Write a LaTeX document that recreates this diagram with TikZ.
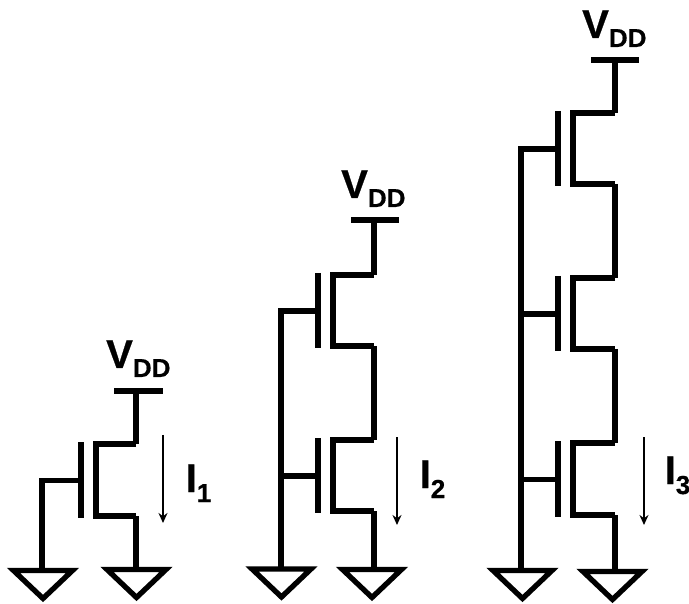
\documentclass[tikz,border=0pt]{standalone}
\usepackage{fontspec}
\setmainfont{Liberation Sans}[BoldFeatures={FakeBold=0.6}]
\usepackage{tikz}
\usetikzlibrary{arrows.meta}

\tikzset{
	wire/.style={line width=5.3pt,miter limit=10},
	current/.style={line width=1.5pt,-{Stealth[length=10pt,width=9pt]}},
	vddlabel/.style={anchor=base west,inner sep=0pt,font=\fontsize{40}{40}\selectfont\bfseries},
	ilabel/.style={anchor=base west,inner sep=0pt,font=\fontsize{40}{40}\selectfont\bfseries},
	gnd/.pic={\draw[wire] (-29.5,0) -- (29.5,0) -- (0,28) -- cycle;}
}
\newcommand{\subtext}[2]{\raisebox{#1}{\fontsize{26}{26}\selectfont #2}}
% name, channel x, drain y, source y, drain wire x
\newcommand{\mosfet}[5]{
	\coordinate (#1d) at (#5,#3);
	\coordinate (#1s) at (#5,#4);
	\coordinate (#1g) at ({#2-15},{(#3+#4)/2+0.5});
	\draw[wire] (#1d) -- (#2,#3) -- (#2,#4) -- (#1s);
	\draw[wire] ({#2-15},{#3-2}) -- ({#2-15},{#4+2});
}

\begin{document}
\begin{tikzpicture}[x=1pt,y=-1pt]
	\useasboundingbox (0,0) rectangle (689,604);

	% first column
	\node (va) [vddlabel] at (106,368) {V\subtext{-9pt}{DD}};
	\coordinate (baral) at (114,391);
	\coordinate (barar) at (163,391);
	\coordinate (bara) at (136,391);
	\mosfet{a}{96}{444}{516}{136}
	\coordinate (leftgnda) at (43,570.5);
	\coordinate (rightgnda) at (136.5,569.5);
	\coordinate (raila) at (42,570.5);
	\pic at (leftgnda) {gnd};
	\pic at (rightgnda) {gnd};
	\draw[wire] (baral) -- (barar);
	\draw[wire] (bara) -- (ad);
	\draw[wire] (as) -- (as |- rightgnda);
	\draw[wire] (ag) -- (ag -| raila) -- (raila);
	\coordinate (ia) at (163,435);
	\coordinate (ib) at (163,523);
	\draw[current] (ia) -- (ib);
	\node (ione) [ilabel] at (185.5,492) {I\subtext{-10pt}{1}};

	% second column
	\node (vb) [vddlabel] at (341,198) {V\subtext{-9pt}{DD}};
	\coordinate (barbl) at (351,220);
	\coordinate (barbr) at (399,220);
	\coordinate (barb) at (374,220);
	\mosfet{b}{333}{275}{346}{374}
	\mosfet{c}{333}{440}{511}{374}
	\coordinate (leftgndb) at (281.5,569);
	\coordinate (rightgndb) at (372,569.5);
	\coordinate (railb) at (281,569);
	\pic at (leftgndb) {gnd};
	\pic at (rightgndb) {gnd};
	\draw[wire] (barbl) -- (barbr);
	\draw[wire] (barb) -- (bd);
	\draw[wire] (bs) -- (cd);
	\draw[wire] (cs) -- (cs |- rightgndb);
	\draw[wire] (bg) -- (bg -| railb) -- (railb);
	\draw[wire] (cg) -- (cg -| railb);
	\coordinate (ic) at (397,437);
	\coordinate (id) at (397,525);
	\draw[current] (ic) -- (id);
	\node (itwo) [ilabel] at (419.5,488) {I\subtext{-10pt}{2}};

	% third column
	\node (vc) [vddlabel] at (582,38) {V\subtext{-9pt}{DD}};
	\coordinate (barcl) at (591,60);
	\coordinate (barcr) at (639,60);
	\coordinate (barc) at (615,60);
	\mosfet{e}{573}{113}{184}{615}
	\mosfet{f}{573}{278}{349}{615}
	\mosfet{h}{573}{443}{515}{615}
	\coordinate (leftgndc) at (522.5,570.5);
	\coordinate (rightgndc) at (612.5,571.5);
	\coordinate (railc) at (521,570.5);
	\pic at (leftgndc) {gnd};
	\pic at (rightgndc) {gnd};
	\draw[wire] (barcl) -- (barcr);
	\draw[wire] (barc) -- (ed);
	\draw[wire] (es) -- (fd);
	\draw[wire] (fs) -- (hd);
	\draw[wire] (hs) -- (hs |- rightgndc);
	\draw[wire] (eg) -- (eg -| railc) -- (railc);
	\draw[wire] (fg) -- (fg -| railc);
	\draw[wire] (hg) -- (hg -| railc);
	\coordinate (ie) at (644,437);
	\coordinate (if) at (644,525);
	\draw[current] (ie) -- (if);
	\node (ithree) [ilabel] at (664.5,484) {I\subtext{-10pt}{3}};
\end{tikzpicture}
\end{document}
